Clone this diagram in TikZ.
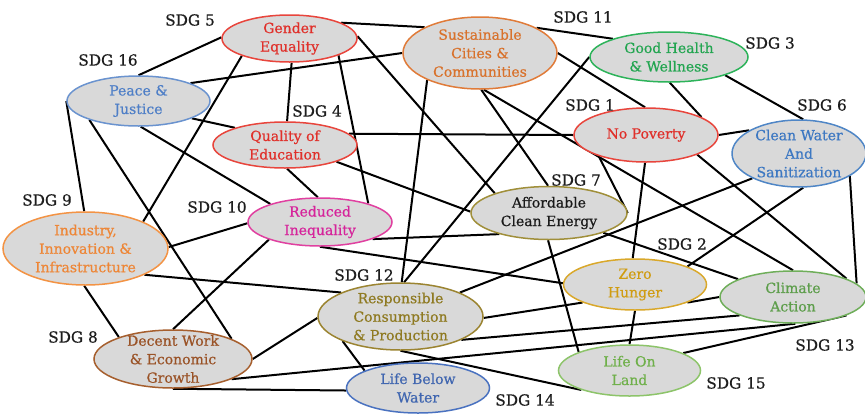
\documentclass[tikz,border=0pt]{standalone}
\usepackage{fontspec}
\setmainfont{DejaVu Serif}
\newfontfamily\heavyserif{DejaVu Serif}[FakeBold=0.6]
\usetikzlibrary{shapes.geometric}

\pgfdeclarelayer{background}
\pgfsetlayers{background,main}

% ellipse fill and outline / text colours per goal
\definecolor{nodefill}{HTML}{D9D9D9}
\definecolor{tagcol}{HTML}{1E1E1E}
\definecolor{redline}{HTML}{E8453C}
\definecolor{redtext}{HTML}{E0302A}
\definecolor{orline}{HTML}{E07B39}
\definecolor{ortext}{HTML}{D8722C}
\definecolor{indline}{HTML}{F39344}
\definecolor{indtext}{HTML}{EE8636}
\definecolor{grline}{HTML}{2DB35A}
\definecolor{grtext}{HTML}{22A550}
\definecolor{pjline}{HTML}{6A93CF}
\definecolor{pjtext}{HTML}{4F7FC7}
\definecolor{cwline}{HTML}{4F86C6}
\definecolor{cwtext}{HTML}{3D78C2}
\definecolor{aceline}{HTML}{A08F3A}
\definecolor{acetext}{HTML}{1A1A1A}
\definecolor{riline}{HTML}{E040A0}
\definecolor{ritext}{HTML}{D6249B}
\definecolor{zhline}{HTML}{D9A82B}
\definecolor{zhtext}{HTML}{D09C12}
\definecolor{caline}{HTML}{6FAE5A}
\definecolor{catext}{HTML}{5E9E4C}
\definecolor{rcline}{HTML}{9B8431}
\definecolor{rctext}{HTML}{8F7A22}
\definecolor{dwline}{HTML}{A65F2E}
\definecolor{dwtext}{HTML}{9A5327}
\definecolor{lbwline}{HTML}{4A72C0}
\definecolor{lbwtext}{HTML}{4066B0}
\definecolor{lolline}{HTML}{8DC46A}
\definecolor{loltext}{HTML}{6FB04A}

\newcommand\goalfont{\heavyserif\fontsize{14}{18.5}\selectfont}
\newcommand\tagfont{\heavyserif\fontsize{15.3}{18}\selectfont}

\tikzset{
  goal/.style={ellipse, draw=#1, fill=nodefill, line width=1.5pt, inner sep=0pt},
  gtext/.style={align=center, inner sep=0pt, font=\goalfont},
  tag/.style={font=\tagfont, text=tagcol, inner sep=0pt},
  link/.style={line width=2pt, black},
}

\begin{document}
\begin{tikzpicture}[x=1pt, y=-1pt]
\useasboundingbox (0,0) rectangle (865,413);

% goals
\node[goal=redline, minimum width=135, minimum height=47,
  label={[gtext, text=redtext]center:Gender\\Equality}] (ge) at (289.5,38.5) {};
\node[goal=orline, minimum width=154, minimum height=72,
  label={[gtext, text=ortext]center:Sustainable\\Cities \&\\Communities}] (sc) at (480,53) {};
\node[goal=grline, minimum width=158, minimum height=50,
  label={[gtext, text=grtext]center:Good Health\\\& Wellness}] (gh) at (669,57) {};
\node[goal=pjline, minimum width=143, minimum height=50,
  label={[gtext, text=pjtext]center:Peace \&\\Justice}] (pj) at (138.5,101) {};
\node[goal=redline, minimum width=144, minimum height=46,
  label={[gtext, text=redtext]center:Quality of\\Education}] (qe) at (285,145) {};
\node[goal=redline, minimum width=144, minimum height=54,
  label={[gtext, text=redtext]center:No Poverty}] (np) at (646,135) {};
\node[goal=cwline, minimum width=134, minimum height=67,
  label={[gtext, text=cwtext]center:Clean Water\\And\\Sanitization}] (cw) at (799,153.5) {};
\node[goal=aceline, minimum width=156, minimum height=53,
  label={[gtext, text=acetext]center:Affordable\\Clean Energy}] (ace) at (549,213) {};
\node[goal=riline, minimum width=144, minimum height=48,
  label={[gtext, text=ritext]center:Reduced\\Inequality}] (ri) at (320,222) {};
\node[goal=indline, minimum width=165, minimum height=73,
  label={[gtext, text=indtext]center:{Industry,\\Innovation \&\\Infrastructure}}] (ind) at (85.5,248.5) {};
\node[goal=zhline, minimum width=143, minimum height=51,
  label={[gtext, text=zhtext]center:Zero\\Hunger}] (zh) at (635,284.5) {};
\node[goal=caline, minimum width=146, minimum height=52,
  label={[gtext, text=catext]center:Climate\\Action}] (ca) at (793,297) {};
\node[goal=rcline, minimum width=165, minimum height=67,
  label={[gtext, text=rctext]center:Responsible\\Consumption\\\& Production}] (rc) at (400.5,316.5) {};
\node[goal=dwline, minimum width=158, minimum height=58,
  label={[gtext, text=dwtext]center:Decent Work\\\& Economic\\Growth}] (dw) at (173,359) {};
\node[goal=lbwline, minimum width=143, minimum height=50,
  label={[gtext, text=lbwtext]center:Life Below\\Water}] (lbw) at (418,388) {};
\node[goal=lolline, minimum width=142, minimum height=51,
  label={[gtext, text=loltext]center:Life On\\Land}] (lol) at (629.5,370.5) {};

% goal numbers
\node[tag] (t5)  at (190,20)  {SDG 5};
\node[tag] (t16) at (108,60)  {SDG 16};
\node[tag] (t4)  at (317,111) {SDG 4};
\node[tag] (t11) at (583,17)  {SDG 11};
\node[tag] (t3)  at (770,43)  {SDG 3};
\node[tag] (t6)  at (822,105) {SDG 6};
\node[tag] (t1)  at (590,105) {SDG 1};
\node[tag] (t7)  at (576,180) {SDG 7};
\node[tag] (t9)  at (47,200)  {SDG 9};
\node[tag] (t10) at (217,207) {SDG 10};
\node[tag] (t2)  at (682,244) {SDG 2};
\node[tag] (t12) at (364,275) {SDG 12};
\node[tag] (t8)  at (73,337)  {SDG 8};
\node[tag] (t13) at (825,345) {SDG 13};
\node[tag] (t15) at (736,383) {SDG 15};
\node[tag] (t14) at (525,400) {SDG 14};

% links between goals, kept under the ellipses
\begin{pgfonlayer}{background}
\fill[white] (0,0) rectangle (865,413);
\draw[link] (ge.179) -- (pj.90);
\draw[link] (ge.200) -- (ind.25);
\draw[link] (ge.275) -- (qe.85);
\draw[link] (ge.341) -- (ri.21);
\draw[link] (ge.2) -- (ace.160);
\draw[link] (ge.17) -- (sc.155);
\draw[link] (pj.19) -- (sc.180);
\draw[link] (pj.342) -- (qe.161);
\draw[link] (pj.180) -- (ind.92);
\draw[link] (pj.201) -- (dw.19);
\draw[link] (pj.275) -- (ri.160);
\draw[link] (qe.10) -- (np.180);
\draw[link] (qe.275) -- (ri.95);
\draw[link] (qe.342) -- (ace.179);
\draw[link] (ri.181) -- (ind.1);
\draw[link] (ri.199) -- (dw.90);
\draw[link] (ri.342) -- (ace.203);
\draw[link] (ri.270) -- (zh.179);
\draw[link] (ind.336) -- (rc.158);
\draw[link] (ind.268) -- (dw.158);
\draw[link] (dw.0) -- (rc.181);
\draw[link] (dw.341) -- (ca.275);
\draw[link] (dw.270) -- (lbw.182);
\draw[link] (sc.207) -- (rc.88);
\draw[link] (sc.24) -- (gh.162);
\draw[link] (sc.0) -- (np.92);
\draw[link] (sc.272) -- (ace.92);
\draw[link] (sc.276) -- (ca.90);
\draw[link] (gh.180) -- (rc.84);
\draw[link] (gh.272) -- (np.18);
\draw[link] (gh.342) -- (cw.83);
\draw[link] (np.0) -- (cw.155);
\draw[link] (np.268) -- (zh.95);
\draw[link] (np.204) -- (ace.0);
\draw[link] (np.339) -- (ca.19);
\draw[link] (cw.208) -- (rc.22);
\draw[link] (cw.277) -- (zh.19);
\draw[link] (cw.336) -- (ca.12);
\draw[link] (ace.340) -- (ca.162);
\draw[link] (ace.268) -- (lol.160);
\draw[link] (rc.359) -- (zh.199);
\draw[link] (zh.341) -- (ca.180);
\draw[link] (zh.270) -- (lol.90);
\draw[link] (rc.339) -- (ca.199);
\draw[link] (ca.341) -- (lol.18);
\draw[link] (rc.203) -- (lbw.162);
\draw[link] (rc.270) -- (lol.202);
\end{pgfonlayer}
\end{tikzpicture}
\end{document}
